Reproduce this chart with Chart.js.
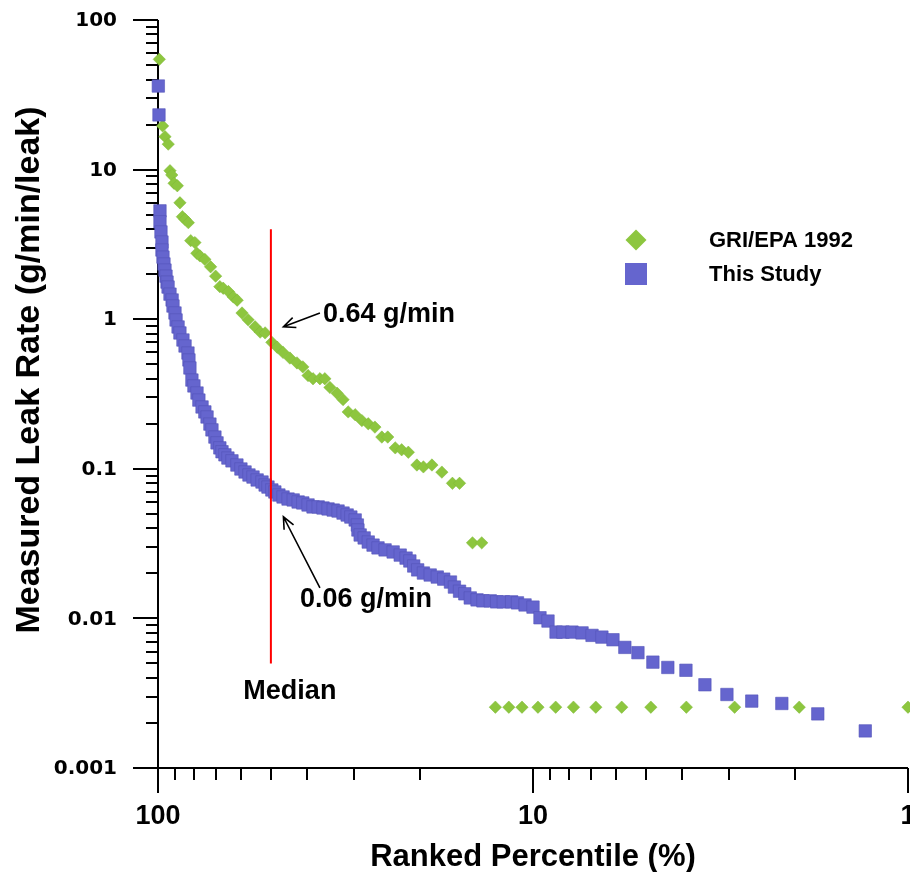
<!DOCTYPE html>
<html>
<head>
<meta charset="utf-8">
<script src="https://cdn.jsdelivr.net/npm/chart.js@4.4.1/dist/chart.umd.min.js"></script>
<style>
  html, body { margin: 0; padding: 0; background: #fff; }
  #wrap { width: 910px; height: 872px; position: relative; }
</style>
</head>
<body>
<div id="wrap"><canvas id="leakChart"></canvas></div>
<script>
// GRI/EPA 1992 - ranked percentile (%) and leak rate (g/min/leak)
const griPercentile = [99.2, 97.2, 95.8, 93.9, 92.9, 91.9, 90.6, 88.8, 87.4, 86.1, 84.7, 83.0, 81.8, 79.7, 78.8,
  77.3, 75.0, 72.4, 70.2, 68.4, 67.0, 64.9, 63.0, 61.5, 59.7, 57.5, 55.1, 53.4, 51.8, 49.7, 48.1, 46.4, 44.5,
  42.6, 41.1, 39.8, 38.6, 37.0, 35.9, 34.8, 33.3, 32.1, 31.1, 29.8, 28.6, 27.5, 26.4, 25.3, 24.4, 23.3, 22.4,
  21.5, 20.4, 19.6, 18.6, 17.5, 16.4, 15.7, 14.5, 13.7, 12.6, 11.6, 10.7, 9.7, 8.7, 7.8, 6.8, 5.8, 4.85, 3.9,
  2.9, 1.95, 1.0];
const griRate = [54.6, 19.6, 16.6, 14.8, 9.83, 9.2, 8.1, 7.8, 6.0, 4.84, 4.65, 4.42, 3.35, 3.25, 2.76,
  2.65, 2.51, 2.24, 1.94, 1.65, 1.61, 1.53, 1.41, 1.34, 1.10, 0.99, 0.89, 0.82, 0.81, 0.70, 0.65, 0.60, 0.55,
  0.51, 0.48, 0.42, 0.40, 0.40, 0.40, 0.35, 0.32, 0.29, 0.24, 0.23, 0.21, 0.20, 0.19, 0.163, 0.163, 0.138, 0.134,
  0.129, 0.106, 0.103, 0.106, 0.095, 0.080, 0.080, 0.032, 0.032, 0.00255, 0.00255, 0.00255, 0.00255, 0.00255,
  0.00255, 0.00255, 0.00255, 0.00255, 0.00255, 0.00255, 0.00255, 0.00255];

// This Study
const studyPercentile = [99.8, 99.4, 98.8, 98.8, 98.2, 97.6, 97.6, 97.0, 96.4, 95.8, 95.2, 94.6, 94.0, 92.9,
  91.7, 91.2, 90.1, 89.5, 88.4, 87.4, 85.8, 84.7, 83.2, 82.7, 82.2, 81.2, 80.2, 78.7, 77.8, 76.3, 75.0, 74.0,
  72.7, 71.8, 70.5, 69.6, 68.4, 67.5, 66.3, 65.1, 63.5, 61.6, 60.1, 58.6, 57.2, 55.8, 54.4, 52.8, 51.8, 50.9,
  49.7, 48.8, 47.6, 46.4, 45.0, 43.6, 42.3, 41.1, 39.8, 38.6, 37.4, 36.3, 35.2, 34.1, 33.1, 32.1, 31.3, 30.6,
  29.8, 29.4, 29.3, 28.9, 28.2, 27.5, 26.7, 25.9, 24.8, 23.6, 22.6, 21.8, 21.3, 20.8, 20.3, 19.6, 18.8, 18.0,
  17.3, 16.6, 16.2, 15.7, 15.2, 14.7, 14.1, 13.6, 13.0, 12.5, 12.0, 11.4, 11.0, 10.5, 10.0, 9.58, 9.12, 8.68,
  8.32, 7.87, 7.40, 6.96, 6.55, 6.12, 5.69, 5.25, 4.79, 4.37, 3.91, 3.48, 3.04, 2.61, 2.17, 1.74, 1.30];
const studyRate = [36.2, 23.2, 5.3, 4.48, 3.83, 3.28, 2.90, 2.60, 2.34, 2.13, 1.94, 1.77, 1.64, 1.47,
  1.344, 1.225, 1.10, 0.988, 0.887, 0.809, 0.726, 0.662, 0.594, 0.534, 0.472, 0.392, 0.358, 0.321, 0.288, 0.259, 0.240, 0.222,
  0.199, 0.182, 0.163, 0.149, 0.138, 0.130, 0.124, 0.118, 0.113, 0.106, 0.0997, 0.0952, 0.0909, 0.0881, 0.0842, 0.0816, 0.0779, 0.0755,
  0.0722, 0.0700, 0.0668, 0.0648, 0.0628, 0.0619, 0.0600, 0.0591, 0.0573, 0.0556, 0.0556, 0.0547, 0.0539, 0.0530, 0.0522, 0.0506, 0.0491, 0.0476,
  0.0455, 0.0421, 0.0390, 0.0361, 0.0345, 0.0324, 0.0309, 0.0296, 0.0287, 0.0278, 0.0265, 0.0253, 0.0242, 0.0224, 0.0211, 0.0201, 0.0195, 0.0189,
  0.0183, 0.0175, 0.0162, 0.0152, 0.0146, 0.0137, 0.0133, 0.0131, 0.0131, 0.0129, 0.0129, 0.0129, 0.0127, 0.0123, 0.0119, 0.0101, 0.0096, 0.0081,
  0.0081, 0.0081, 0.0080, 0.0077, 0.0075, 0.0072, 0.0064, 0.0059, 0.0051, 0.0047, 0.0045, 0.0036, 0.0031, 0.0028, 0.0027, 0.0023, 0.00177];

// median marker
const medianPercentile = [50, 50];
const medianRate = [0.005, 4];

const xTickValues = [100, 10, 1];
const yTickValues = [100, 10, 1, 0.1, 0.01, 0.001];
const yTickLabels = ["100", "10", "1", "0.1", "0.01", "0.001"];

const seriesNames = ["GRI/EPA 1992", "This Study"];
const green = "#8DC63F";
const blue = "#6565CE";

function toPoints(xs, ys) {
    return xs.map((x, i) => ({ x: x, y: ys[i] }));
}

function drawArrow(ctx, x0, y0, x1, y1) {
    const ang = Math.atan2(y1 - y0, x1 - x0);
    const head = 13, spread = 0.42;
    ctx.beginPath();
    ctx.moveTo(x0, y0);
    ctx.lineTo(x1, y1);
    ctx.moveTo(x1 - head * Math.cos(ang - spread), y1 - head * Math.sin(ang - spread));
    ctx.lineTo(x1, y1);
    ctx.lineTo(x1 - head * Math.cos(ang + spread), y1 - head * Math.sin(ang + spread));
    ctx.stroke();
}

// axes, ticks and labels are drawn by hand so major / minor ticks get their own length
const axesPlugin = {
    id: "axesPlugin",
    beforeDatasetsDraw(chart) {
        const ctx = chart.ctx;
        const xs = chart.scales.x, ys = chart.scales.y;
        const a = chart.chartArea;
        ctx.save();
        ctx.strokeStyle = "#000";
        ctx.lineWidth = 2;
        ctx.beginPath();
        ctx.moveTo(a.left, a.top);
        ctx.lineTo(a.left, a.bottom);
        ctx.moveTo(a.left, a.bottom);
        ctx.lineTo(a.right, a.bottom);

        // y ticks
        for (let d = -3; d <= 2; d++) {
            const py = Math.round(ys.getPixelForValue(Math.pow(10, d)));
            ctx.moveTo(a.left - 25, py);
            ctx.lineTo(a.left, py);
            if (d < 2) {
                for (let m = 2; m <= 9; m++) {
                    const my = Math.round(ys.getPixelForValue(m * Math.pow(10, d)));
                    ctx.moveTo(a.left - 12, my);
                    ctx.lineTo(a.left, my);
                }
            }
        }
        // x ticks
        for (let d = 0; d <= 2; d++) {
            const px = Math.round(xs.getPixelForValue(Math.pow(10, d)));
            ctx.moveTo(px, a.bottom);
            ctx.lineTo(px, a.bottom + 25);
            if (d < 2) {
                for (let m = 2; m <= 9; m++) {
                    const mx = Math.round(xs.getPixelForValue(m * Math.pow(10, d)));
                    ctx.moveTo(mx, a.bottom);
                    ctx.lineTo(mx, a.bottom + 12);
                }
            }
        }
        ctx.stroke();

        ctx.fillStyle = "#000";
        ctx.font = "bold 20px 'DejaVu Sans'";
        ctx.textAlign = "right";
        ctx.textBaseline = "middle";
        yTickValues.forEach((v, i) => {
            ctx.fillText(yTickLabels[i], a.left - 41, ys.getPixelForValue(v) + 1);
        });

        ctx.font = "bold 27px 'Liberation Sans'";
        ctx.textAlign = "center";
        ctx.textBaseline = "middle";
        xTickValues.forEach(v => {
            ctx.fillText(String(v), xs.getPixelForValue(v), a.bottom + 49);
        });

        ctx.font = "bold 31px 'Liberation Sans'";
        ctx.fillText("Ranked Percentile (%)", (a.left + a.right) / 2, a.bottom + 89);

        ctx.save();
        ctx.translate(30, 370);
        ctx.rotate(-Math.PI / 2);
        ctx.font = "bold 34px 'Liberation Sans'";
        ctx.fillText("Measured Leak Rate (g/min/leak)", 0, 0);
        ctx.restore();
        ctx.restore();
    },
    afterDatasetsDraw(chart) {
        const ctx = chart.ctx;
        const xs = chart.scales.x, ys = chart.scales.y;
        const X = v => xs.getPixelForValue(v), Y = v => ys.getPixelForValue(v);
        ctx.save();
        ctx.fillStyle = "#000";
        ctx.strokeStyle = "#000";
        ctx.lineWidth = 1.6;
        ctx.font = "bold 27px 'Liberation Sans'";
        ctx.textBaseline = "middle";
        ctx.textAlign = "left";
        ctx.fillText("0.64 g/min", X(36.3), Y(1.07));
        drawArrow(ctx, X(37.0), Y(1.10), X(46.3), Y(0.891));
        ctx.fillText("0.06 g/min", X(41.8), Y(0.0133));
        drawArrow(ctx, X(37.0), Y(0.0160), X(46.3), Y(0.0478));
        ctx.textAlign = "center";
        ctx.fillText("Median", X(44.5), Y(0.00322));

        // legend
        const lx = 636;
        ctx.fillStyle = green;
        ctx.beginPath();
        ctx.moveTo(lx - 10.5, 240);
        ctx.lineTo(lx, 229.5);
        ctx.lineTo(lx + 10.5, 240);
        ctx.lineTo(lx, 250.5);
        ctx.closePath();
        ctx.fill();
        ctx.fillStyle = blue;
        ctx.fillRect(lx - 11, 263, 22, 22);
        ctx.fillStyle = "#000";
        ctx.textAlign = "left";
        ctx.font = "bold 22px 'Liberation Sans'";
        ctx.fillText(seriesNames[0], 709, 241);
        ctx.fillText(seriesNames[1], 709, 275);
        ctx.restore();
    }
};

const ctx = document.getElementById("leakChart").getContext("2d");
new Chart(ctx, {
    type: "scatter",
    data: {
        datasets: [
            {
                label: "Median",
                data: toPoints(medianPercentile, medianRate),
                showLine: true,
                borderColor: "#FF0000",
                borderWidth: 2,
                pointRadius: 0,
                order: 0
            },
            {
                label: seriesNames[1],
                data: toPoints(studyPercentile, studyRate),
                pointStyle: "rect",
                pointRadius: 8.8,
                backgroundColor: blue,
                borderColor: "#5454B8",
                borderWidth: 0.6,
                clip: false,
                order: 1
            },
            {
                label: seriesNames[0],
                data: toPoints(griPercentile, griRate),
                pointStyle: "rectRot",
                pointRadius: 6.2,
                backgroundColor: green,
                borderColor: "#7FB836",
                borderWidth: 0.5,
                clip: false,
                order: 2
            }
        ]
    },
    options: {
        responsive: true,
        maintainAspectRatio: false,
        animation: false,
        layout: {
            autoPadding: false,  // keep the plot box exactly where the padding puts it
            padding: { left: 158, right: 2, top: 20, bottom: 104 }
        },
        scales: {
            x: { type: "logarithmic", min: 1, max: 100, reverse: true, display: false },
            y: { type: "logarithmic", min: 0.001, max: 100, display: false }
        },
        plugins: {
            legend: { display: false },
            tooltip: { enabled: false }
        }
    },
    plugins: [axesPlugin]
});
</script>
</body>
</html>
